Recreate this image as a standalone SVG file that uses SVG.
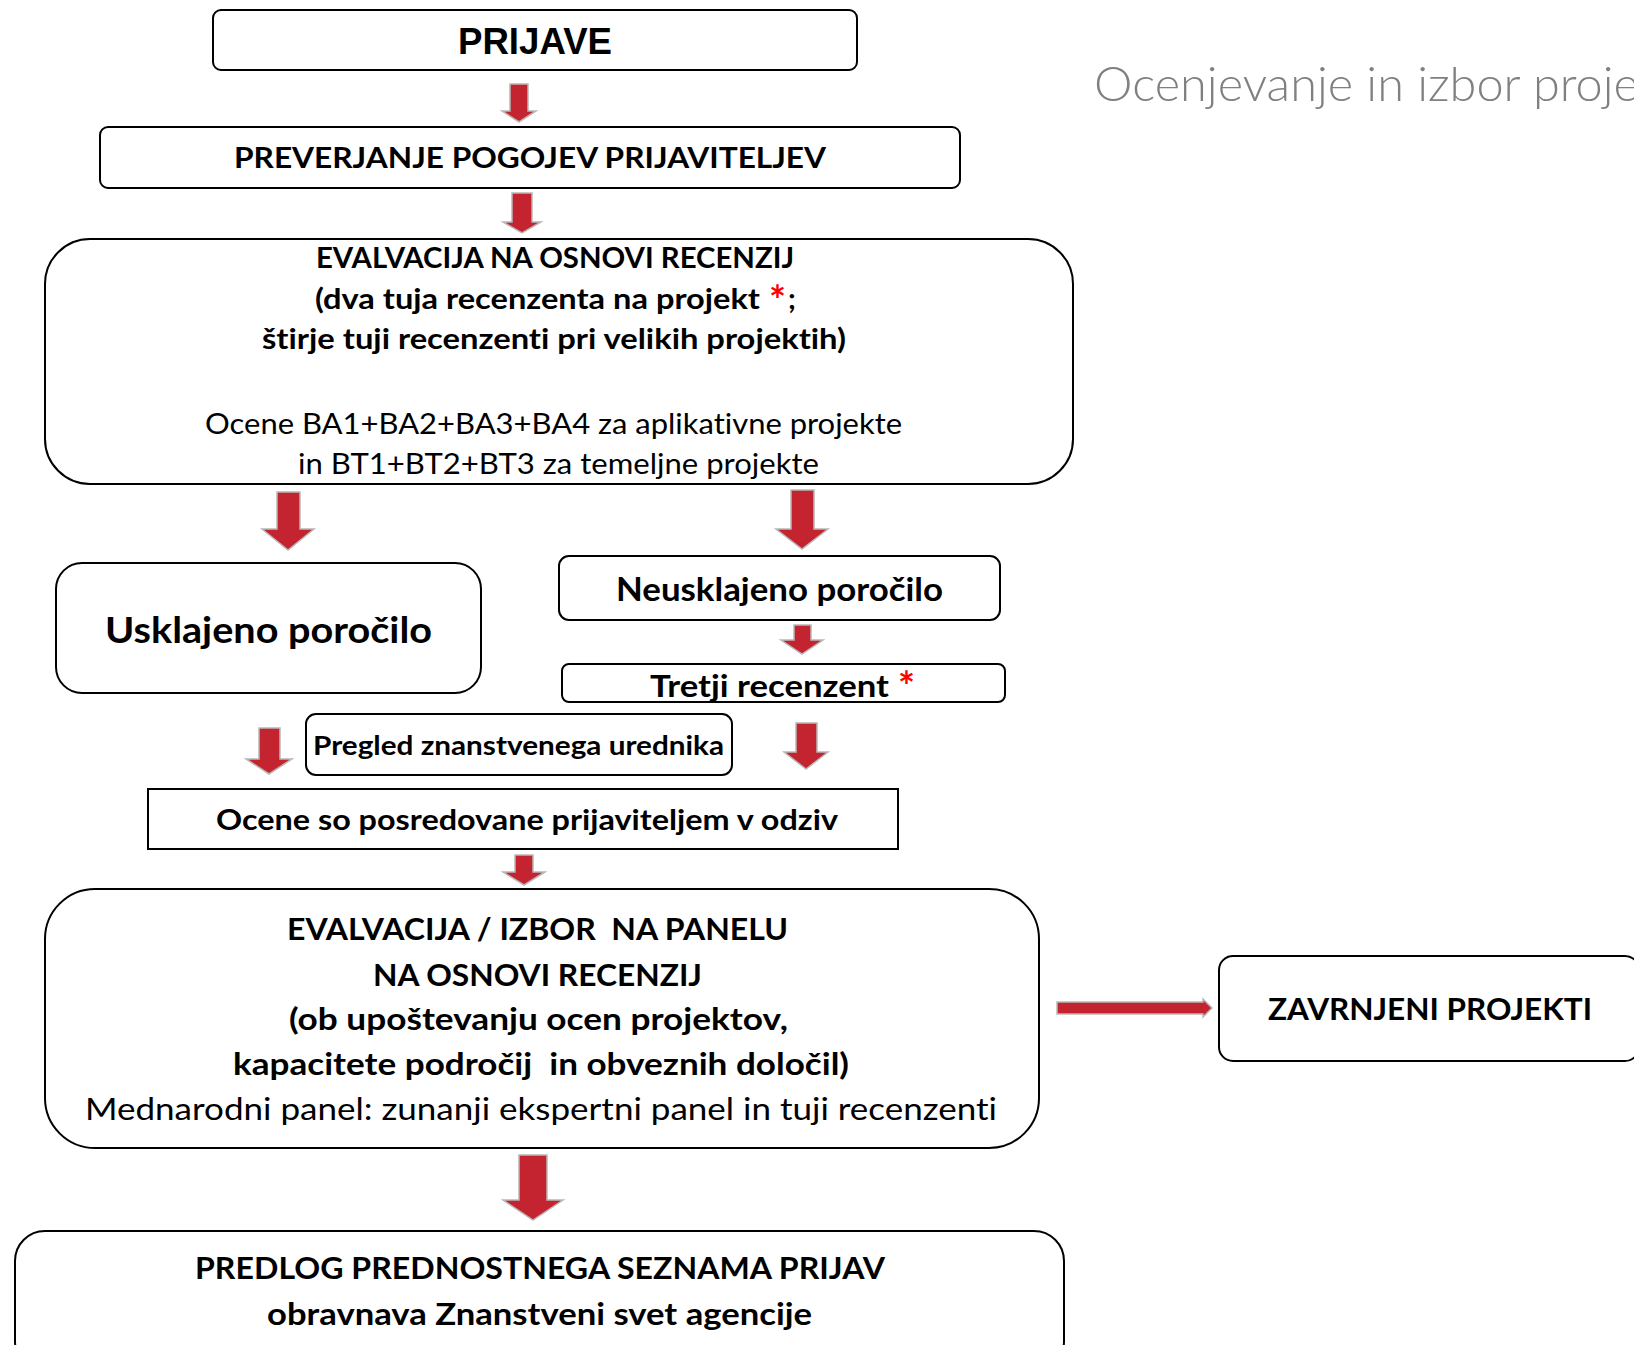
<svg xmlns="http://www.w3.org/2000/svg" width="1634" height="1345" viewBox="0 0 1634 1345">
<style>
text{font-variant-ligatures:none;font-feature-settings:"liga" 0,"clig" 0}
.box{fill:#fff;stroke:#000;stroke-width:2}
.b{font-family:Lato,"Open Sans","Liberation Sans",sans-serif;font-weight:bold;fill:#000}
.r{font-family:Lato,"Open Sans","Liberation Sans",sans-serif;font-weight:normal;fill:#000}
.ar{fill:#C4242F;stroke:#B8B8B8;stroke-width:1.5;stroke-linejoin:miter}
.star{fill:#FF0000}
</style>
<rect width="1634" height="1345" fill="#fff"/>
<text x="1094" y="101" font-family="Lato,'Open Sans','Liberation Sans',sans-serif" font-weight="300" font-size="48" fill="#808080" textLength="545" lengthAdjust="spacingAndGlyphs">Ocenjevanje in izbor proje</text>

<g id="connectors">
<polygon class="ar" points="510,84 528,84 528,111 536,111 519,122 502,111 510,111"/>
<polygon class="ar" points="512,193 532,193 532,222 541,222 522,233 503,222 512,222"/>
<polygon class="ar" points="277,492 300,492 300,529 314,529 288,550 262,529 277,529"/>
<polygon class="ar" points="791,490 814,490 814,529 828,529 802,549 776,529 791,529"/>
<polygon class="ar" points="794,625 811,625 811,640 823,640 802,654 781,640 794,640"/>
<polygon class="ar" points="259,728 280,728 280,759 292,759 269,774 246,759 259,759"/>
<polygon class="ar" points="796,723 817,723 817,752 828,752 806,769 784,752 796,752"/>
<polygon class="ar" points="515,855 533,855 533,872 545,872 524,885 503,872 515,872"/>
<polygon class="ar" points="519,1155 547,1155 547,1200 563,1200 533,1220 503,1200 519,1200"/>
<polygon class="ar" points="1057,1002 1203,1002 1203,999 1212,1008 1203,1017 1203,1014 1057,1014"/>
</g>

<g id="prijave">
<rect class="box" x="213" y="10" width="644" height="60" rx="8"/>
<text x="458" y="54" font-family="'Liberation Sans',Arial,sans-serif" font-weight="bold" font-size="36" textLength="154" lengthAdjust="spacingAndGlyphs">PRIJAVE</text>
</g>

<g id="preverjanje">
<rect class="box" x="100" y="127" width="860" height="61" rx="8"/>
<text class="b" x="234" y="168" font-size="29" textLength="592" lengthAdjust="spacingAndGlyphs">PREVERJANJE POGOJEV PRIJAVITELJEV</text>
</g>

<g id="evalvacija">
<rect class="box" x="45" y="239" width="1028" height="245" rx="45"/>
<text class="b" x="316" y="268" font-size="29" textLength="478" lengthAdjust="spacingAndGlyphs">EVALVACIJA NA OSNOVI RECENZIJ</text>
<text class="b" x="315" y="309" font-size="29" textLength="445" lengthAdjust="spacingAndGlyphs">(dva tuja recenzenta na projekt</text>
<text class="b star" x="769" y="315" font-size="40">*</text>
<text class="b" x="788" y="309" font-size="29">;</text>
<text class="b" x="262" y="349" font-size="29" textLength="584" lengthAdjust="spacingAndGlyphs">štirje tuji recenzenti pri velikih projektih)</text>
<text class="r" x="205" y="434" font-size="29" textLength="697" lengthAdjust="spacingAndGlyphs">Ocene BA1+BA2+BA3+BA4 za aplikativne projekte</text>
<text class="r" x="298" y="474" font-size="29" textLength="521" lengthAdjust="spacingAndGlyphs">in BT1+BT2+BT3 za temeljne projekte</text>
</g>

<g id="usklajeno">
<rect class="box" x="56" y="563" width="425" height="130" rx="26"/>
<text class="b" x="105" y="643" font-size="37" textLength="327" lengthAdjust="spacingAndGlyphs">Usklajeno poročilo</text>
</g>

<g id="neusklajeno">
<rect class="box" x="559" y="556" width="441" height="64" rx="10"/>
<text class="b" x="616" y="601" font-size="33" textLength="327" lengthAdjust="spacingAndGlyphs">Neusklajeno poročilo</text>
</g>

<g id="tretji">
<rect class="box" x="562" y="664" width="443" height="38" rx="7"/>
<text class="b" x="650" y="697" font-size="31" textLength="239" lengthAdjust="spacingAndGlyphs">Tretji recenzent</text>
<text class="b star" x="898" y="701" font-size="40">*</text>
</g>

<g id="pregled">
<rect class="box" x="306" y="714" width="426" height="61" rx="10"/>
<text class="b" x="313" y="755" font-size="27" textLength="411" lengthAdjust="spacingAndGlyphs">Pregled znanstvenega urednika</text>
</g>

<g id="ocene">
<rect class="box" x="148" y="789" width="750" height="60"/>
<text class="b" x="216" y="830" font-size="29" textLength="622" lengthAdjust="spacingAndGlyphs">Ocene so posredovane prijaviteljem v odziv</text>
</g>

<g id="panel">
<rect class="box" x="45" y="889" width="994" height="259" rx="50"/>
<text class="b" x="287" y="940" font-size="31" textLength="501" lengthAdjust="spacingAndGlyphs" xml:space="preserve">EVALVACIJA / IZBOR  NA PANELU</text>
<text class="b" x="373" y="986" font-size="31" textLength="329" lengthAdjust="spacingAndGlyphs">NA OSNOVI RECENZIJ</text>
<text class="b" x="289" y="1030" font-size="31" textLength="499" lengthAdjust="spacingAndGlyphs">(ob upoštevanju ocen projektov,</text>
<text class="b" x="233" y="1075" font-size="31" textLength="616" lengthAdjust="spacingAndGlyphs" xml:space="preserve">kapacitete področij  in obveznih določil)</text>
<text class="r" x="85" y="1120" font-size="31" textLength="912" lengthAdjust="spacingAndGlyphs">Mednarodni panel: zunanji ekspertni panel in tuji recenzenti</text>
</g>

<g id="zavrnjeni">
<rect class="box" x="1219" y="956" width="420" height="105" rx="14"/>
<text class="b" x="1268" y="1020" font-size="30" textLength="324" lengthAdjust="spacingAndGlyphs">ZAVRNJENI PROJEKTI</text>
</g>

<g id="predlog">
<rect class="box" x="15" y="1231" width="1049" height="140" rx="30"/>
<text class="b" x="195" y="1279" font-size="31" textLength="690" lengthAdjust="spacingAndGlyphs">PREDLOG PREDNOSTNEGA SEZNAMA PRIJAV</text>
<text class="b" x="267" y="1325" font-size="31" textLength="545" lengthAdjust="spacingAndGlyphs">obravnava Znanstveni svet agencije</text>
</g>
</svg>
